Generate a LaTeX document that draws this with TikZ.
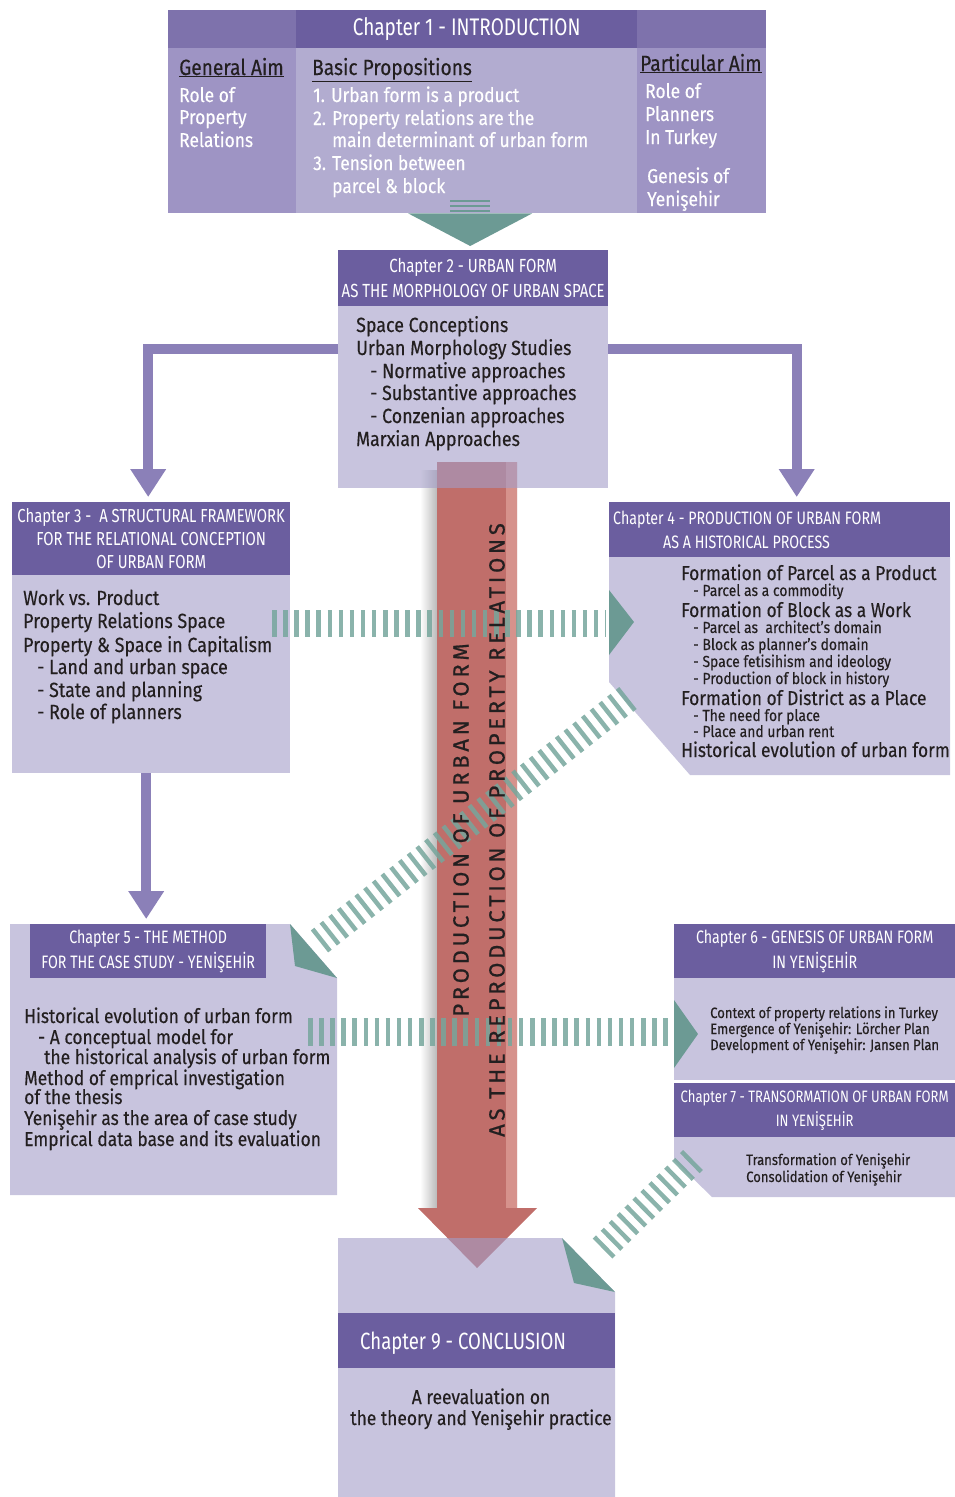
\documentclass[tikz,border=0pt]{standalone}
\usepackage{fontspec}
\setmainfont[FakeStretch=0.87,FakeBold=0.3]{Fira Sans}
\newfontfamily\hdrfont[FakeStretch=0.79]{Fira Sans}
\newfontfamily\arrowfont[LetterSpace=17,FakeBold=0.8]{Fira Sans}
\usetikzlibrary{arrows.meta,positioning}
\definecolor{hdrc}{RGB}{107,94,159}
\definecolor{sidec}{RGB}{126,114,172}
\definecolor{colc}{RGB}{158,148,196}
\definecolor{midc}{RGB}{178,172,208}
\definecolor{bodyc}{RGB}{163,157,200}
\definecolor{inkc}{RGB}{35,31,32}
\definecolor{connc}{RGB}{139,128,184}
\definecolor{stripec}{RGB}{118,166,156}
\definecolor{headc}{RGB}{108,154,148}
\definecolor{redc}{RGB}{192,110,106}
\definecolor{redlight}{RGB}{214,146,140}

\begin{document}
\begin{tikzpicture}[x=1pt,y=-1pt,
  hdrbox/.style={fill=hdrc, inner sep=0pt, anchor=north west, text=white, align=center, font=\hdrfont\fontsize{18}{24.5}\selectfont},
  hdrtxt/.style={anchor=base west, inner sep=0pt, text=white, font=\hdrfont\fontsize{18}{24}\selectfont},
  txt/.style={anchor=base west, inner sep=0pt, text=inkc, font=\fontsize{20.5}{24}\selectfont},
  bigtxt/.style={txt, font=\fontsize{20}{22}\selectfont},
  smalltxt/.style={txt, font=\fontsize{15}{17}\selectfont},
  wtxt/.style={txt, text=white, font=\fontsize{20}{23}\selectfont},
  aimtxt/.style={txt, font=\fontsize{22}{26}\selectfont},
  body/.style={fill=bodyc, fill opacity=.6},
  conn/.style={draw=connc, line width=10pt, -{Triangle[width=34pt,length=28pt]}, shorten >=5pt},
  stripes/.style={draw=stripec, draw opacity=.85, dash pattern=on 4.5pt off 6.6pt},
  tealhead/.style={fill=headc}]
\useasboundingbox (0,0) rectangle (955,1497);

% red arrow (behind the boxes)
\shade[left color=white, right color=black!45, opacity=.6] (420,470) rectangle (437,1210);
\fill[redc] (437,462) -- (517,462) -- (517,1208) -- (537,1208) -- (477,1268) -- (418,1208) -- (437,1208) -- cycle;
\fill[redlight] (506,462) rectangle (517,1208);

% chapter 1
\node[minimum width=598pt, minimum height=203pt, inner sep=0pt, anchor=north west] (ch1) at (168,10) {};
\fill[sidec] (168,10) rectangle (766,48);
\node[hdrbox, minimum width=341pt, minimum height=38pt, font=\hdrfont\fontsize{24}{26}\selectfont] (ch1head) at (296,10) {Chapter 1 - INTRODUCTION};
\fill[colc] (168,48) rectangle (296,213);
\fill[colc] (637,48) rectangle (766,213);
\fill[midc] (296,48) rectangle (637,213);
\node[aimtxt] (gaim) at (179,75) {\underline{General Aim}};
\node[aimtxt] (bprop) at (312,75) {\underline{Basic Propositions}};
\node[aimtxt] (paim) at (640,71) {\underline{Particular Aim}};
\foreach \lx/\ly/\lt in {179/102/Role of, 179/124/Property, 179/147/Relations,
  313/102/1. Urban form is a product, 313/125/2. Property relations are the,
  332/147/main determinant of urban form, 313/170/3. Tension between, 332/193/parcel \& block,
  645/98/Role of, 645/121/Planners, 645/144/In Turkey, 647/183/Genesis of, 647/206/Yenişehir}
  \node[wtxt] (c1-\lx-\ly) at (\lx,\ly) {\lt};
\foreach \ly in {201,206,211}
  \draw[headc, line width=2.5pt] (450,\ly) -- (490,\ly);

% chapter 2
\node[hdrbox, minimum width=270pt, minimum height=56pt, font=\hdrfont\fontsize{19}{24.5}\selectfont] (ch2head) at (338,250) {Chapter 2 - URBAN FORM\\AS THE MORPHOLOGY OF URBAN SPACE};
\node[body, minimum width=270pt, minimum height=182pt, inner sep=0pt, anchor=north west] (ch2) at (338,306) {};
\fill[tealhead] ([xshift=-59pt]ch1.south) -- ([xshift=65pt]ch1.south) -- ([xshift=-3pt,yshift=4pt]ch2head.north) -- cycle;
\foreach \lx/\ly/\lt in {356/332/Space Conceptions, 356/355/Urban Morphology Studies,
  370/378/- Normative approaches, 370/400/- Substantive approaches,
  370/423/- Conzenian approaches, 356/446/Marxian Approaches}
  \node[txt] (c2-\ly) at (\lx,\ly) {\lt};

% chapter 3
\node[hdrbox, minimum width=278pt, minimum height=73pt, font=\hdrfont\fontsize{18.8}{23}\selectfont] (ch3head) at (12,502) {Chapter 3 -\ \ A STRUCTURAL FRAMEWORK\\FOR THE RELATIONAL CONCEPTION\\OF URBAN FORM};
\node[body, minimum width=278pt, minimum height=198pt, inner sep=0pt, anchor=north west] (ch3) at (12,575) {};
\foreach \lx/\ly/\lt in {23/605/Work vs. Product, 23/628/Property Relations Space,
  23/652/Property \& Space in Capitalism, 37/674/- Land and urban space,
  37/697/- State and planning, 37/719/- Role of planners}
  \node[txt] (c3-\ly) at (\lx,\ly) {\lt};

% chapter 4
\node[hdrbox, minimum width=341pt, minimum height=55pt] (ch4head) at (609,502) {};
\node[hdrtxt] (ch4t1) at (613,524) {Chapter 4 - PRODUCTION OF URBAN FORM};
\node[hdrtxt] (ch4t2) at (663,548) {AS A HISTORICAL PROCESS};
\fill[body] (609,557) -- (950,557) -- (950,775) -- (690,775) -- (609,682) -- cycle;
\foreach \ly/\lt in {580/Formation of Parcel as a Product, 617/Formation of Block as a Work,
  705/Formation of District as a Place, 757/Historical evolution of urban form}
  \node[bigtxt] (c4-\ly) at (681,\ly) {\lt};
\foreach \ly/\lt in {596/- Parcel as a commodity, 633/- Parcel as\ \ architect's domain,
  650/- Block as planner's domain, 667/- Space fetisihism and ideology,
  684/- Production of block in history, 721/- The need for place, 737/- Place and urban rent}
  \node[smalltxt, font=\fontsize{16}{17}\selectfont] (c4-\ly) at (693,\ly) {\lt};

% chapter 5
\fill[body] (10,924) -- (290,924) -- (337,978) -- (337,1195) -- (10,1195) -- cycle;
\node[hdrbox, minimum width=236pt, minimum height=54pt] (ch5head) at (30,924) {Chapter 5 - THE METHOD\\FOR THE CASE STUDY - YENİŞEHİR};
\foreach \lx/\ly/\lt in {24/1023/Historical evolution of urban form, 38/1044/- A conceptual model for,
  44/1064/the historical analysis of urban form, 24/1085/Method of emprical investigation,
  24/1104/of the thesis, 24/1125/Yenişehir as the area of case study,
  24/1146/Emprical data base and its evaluation}
  \node[txt, font=\fontsize{20}{24}\selectfont] (c5-\ly) at (\lx,\ly) {\lt};

% chapter 6 and 7
\node[hdrbox, minimum width=281pt, minimum height=54pt] (ch6head) at (674,924) {Chapter 6 - GENESIS OF URBAN FORM\\IN YENİŞEHİR};
\fill[body] (674,978) rectangle (955,1080);
\foreach \ly/\lt in {1018/Context of property relations in Turkey,
  1034/Emergence of Yenişehir: Lörcher Plan, 1050/Development of Yenişehir: Jansen Plan}
  \node[smalltxt] (c6-\ly) at (710,\ly) {\lt};
\node[hdrbox, minimum width=281pt, minimum height=54pt, font=\hdrfont\fontsize{16.5}{24.5}\selectfont] (ch7head) at (674,1083) {Chapter 7 - TRANSORMATION OF URBAN FORM\\IN YENİŞEHİR};
\fill[body] (674,1137) -- (955,1137) -- (955,1197) -- (712,1197) -- (674,1160) -- cycle;
\foreach \ly/\lt in {1165/Transformation of Yenişehir, 1182/Consolidation of Yenişehir}
  \node[smalltxt] (c7-\ly) at (746,\ly) {\lt};

% chapter 9
\fill[body] (338,1238) -- (562,1238) -- (615,1292) -- (615,1497) -- (338,1497) -- cycle;
\node[hdrbox, minimum width=277pt, minimum height=55pt] (ch9head) at (338,1313) {};
\node[hdrtxt, font=\hdrfont\fontsize{23.5}{26}\selectfont] (ch9t) at (360,1349) {Chapter 9 - CONCLUSION};
\node[txt, anchor=base, font=\fontsize{20}{22}\selectfont] (c9-1) at (481,1404) {A reevaluation on};
\node[txt, anchor=base, font=\fontsize{20}{22}\selectfont] (c9-2) at (481,1425) {the theory and Yenişehir practice};

% purple connectors
\draw[conn] ([yshift=48pt]ch2.west) -| ([xshift=-3pt]ch3head.north);
\draw[conn] ([yshift=48pt]ch2.east) -| ([xshift=17pt]ch4head.north);
\draw[conn] ([xshift=-5pt]ch3.south) -- ([xshift=-2pt]ch5head.north);

% striped connectors
\coordinate (s34a) at (272,623);
\coordinate (s34b) at (606,623);
\coordinate (s56a) at (308,1032);
\coordinate (s56b) at (672,1032);
\coordinate (s45a) at (628,698);
\coordinate (s45b) at (315,945);
\coordinate (s79a) at (693,1160);
\coordinate (s79b) at (598,1253);
\draw[stripes, line width=27pt] (s34a) -- (s34b);
\draw[stripes, line width=28pt] (s56a) -- (s56b);
\draw[stripes, line width=28pt] (s45a) -- (s45b);
\draw[stripes, line width=28pt] (s79a) -- (s79b);
\fill[tealhead] (609,590) -- (634,622) -- (609,655) -- cycle;
\fill[tealhead] (674,1000) -- (698,1034) -- (674,1068) -- cycle;
\fill[tealhead] (290,924) -- (337,978) -- (295,966) -- cycle;
\fill[tealhead] (562,1238) -- (615,1292) -- (574,1283) -- cycle;

\node[rotate=90, align=center, inner sep=0pt, text=inkc, font=\arrowfont\fontsize{22}{36}\selectfont] (prodtxt) at (479,830) {PRODUCTION OF URBAN FORM\\AS THE REPRODUCTION OF PROPERTY RELATIONS};
\end{tikzpicture}
\end{document}
